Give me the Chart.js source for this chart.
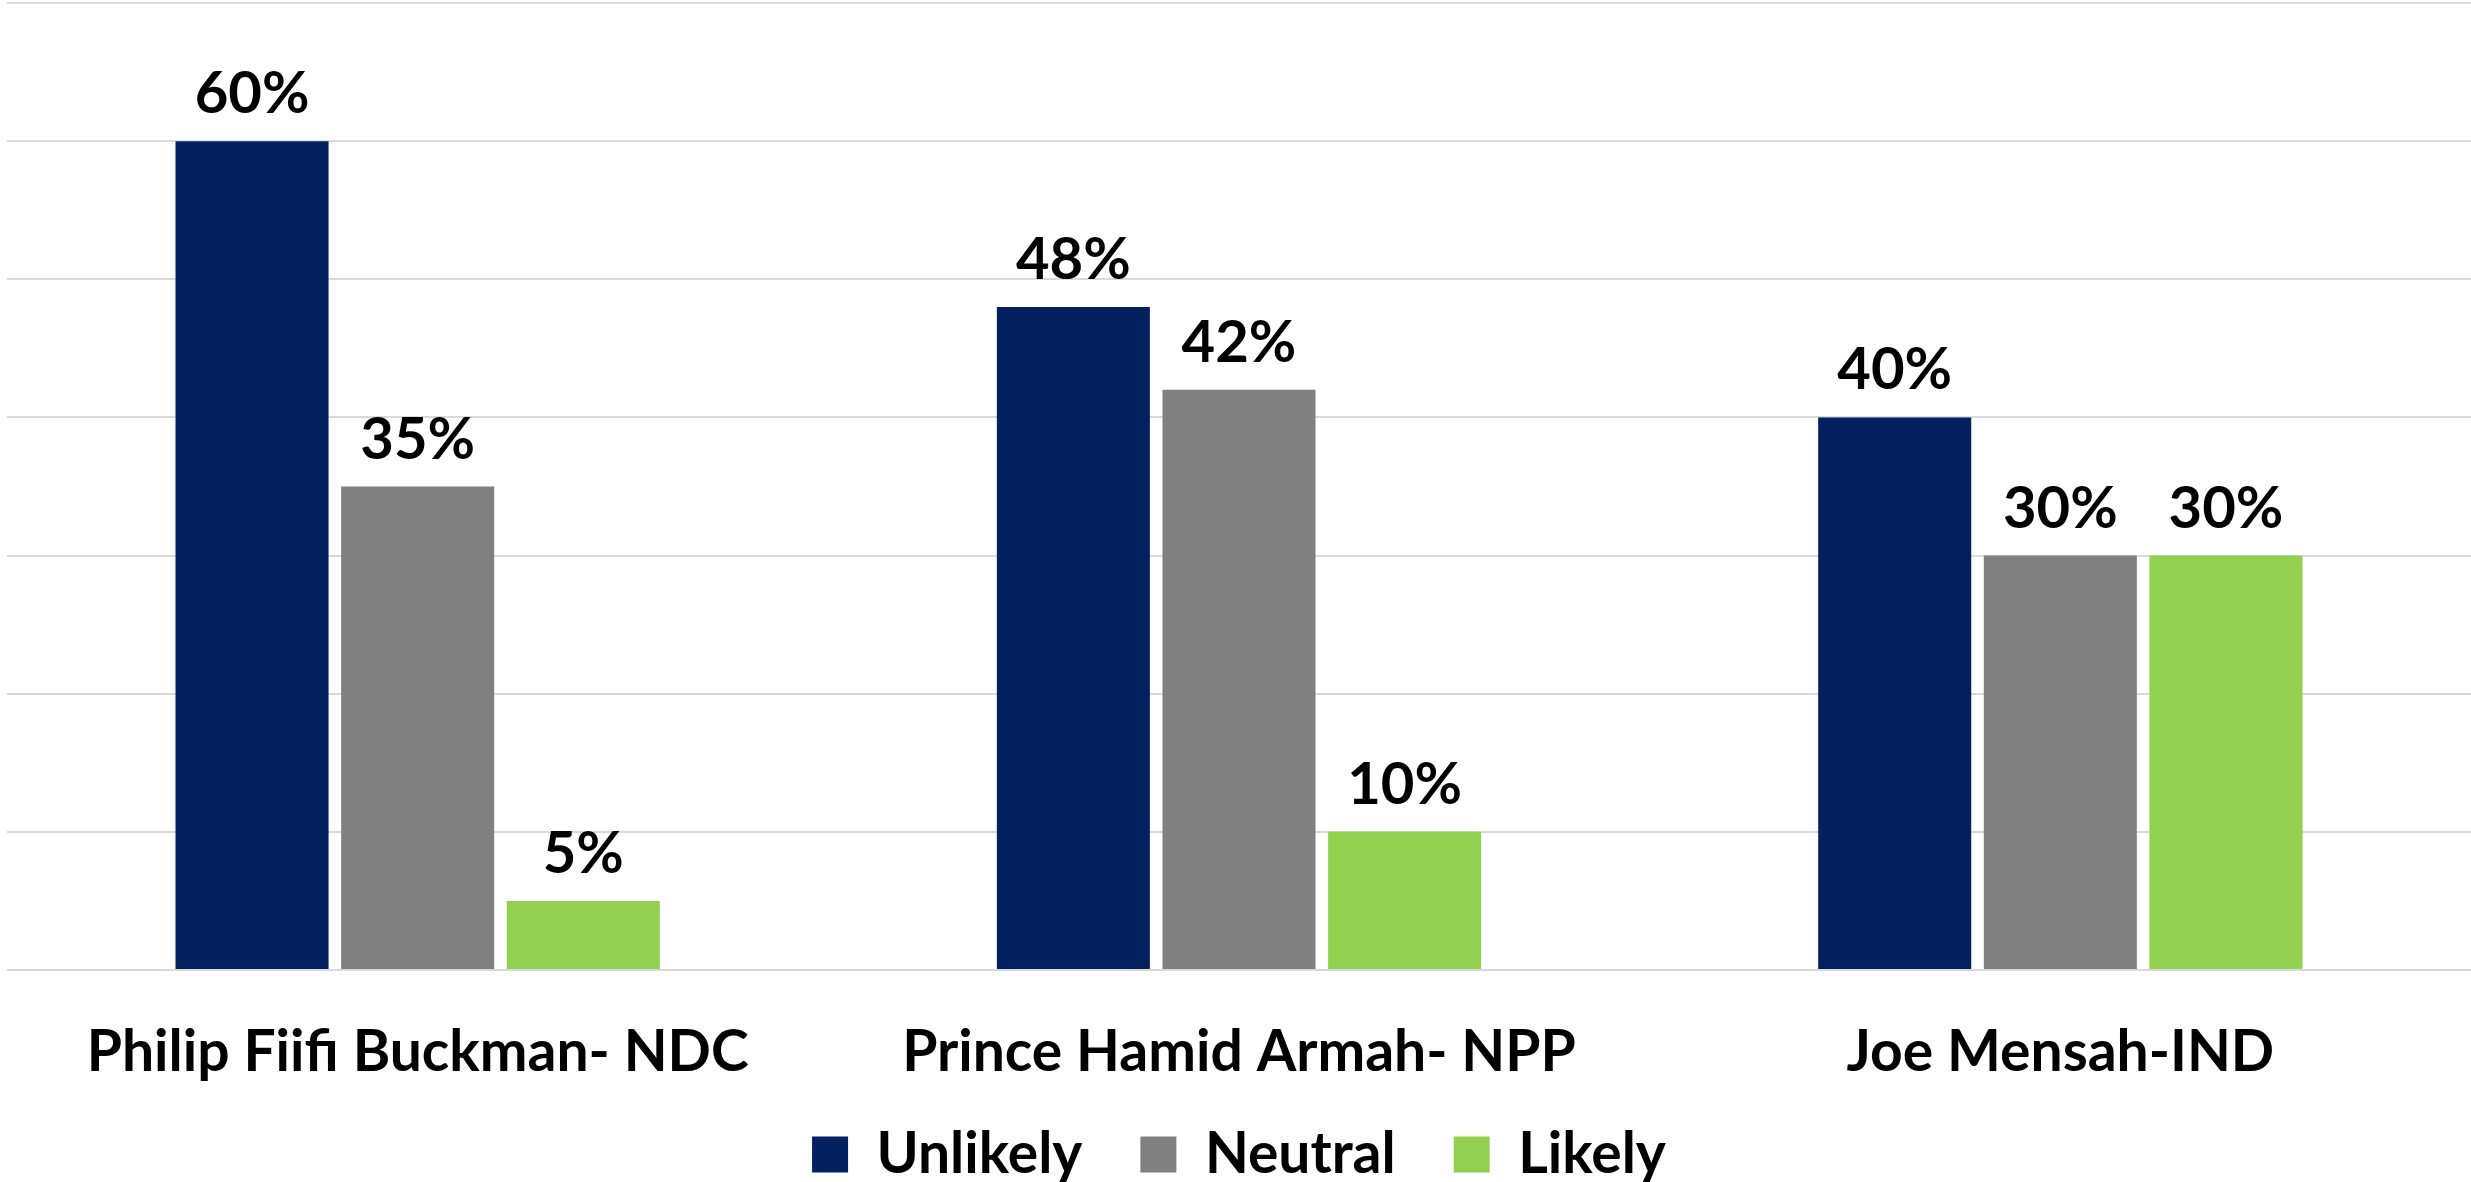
<!DOCTYPE html>
<html>
<head>
<meta charset="utf-8">
<script src="https://cdn.jsdelivr.net/npm/chart.js@4"></script>
<style>
    html, body { margin: 0; padding: 0; background: #fff; }
    #wrap { width: 2471px; height: 1182px; }
</style>
</head>
<body>
<div id="wrap"><canvas id="chart" width="2471" height="1182"></canvas></div>
<script>
const candidates = ["Philip Fiifi Buckman- NDC", "Prince Hamid Armah- NPP", "Joe Mensah-IND"];
const unlikely = [60, 48, 40];
const neutral = [35, 42, 30];
const likely = [5, 10, 30];
const yTicks = [0, 10, 20, 30, 40, 50, 60, 70];

const FONT = "Lato, 'Open Sans', sans-serif";

// value labels above each bar
const barLabels = {
    id: 'barLabels',
    afterDatasetsDraw(chart) {
        const ctx = chart.ctx;
        ctx.save();
        ctx.font = "bold 58px " + FONT;
        ctx.fillStyle = '#000';
        ctx.textAlign = 'center';
        ctx.textBaseline = 'alphabetic';
        chart.data.datasets.forEach((ds, i) => {
            chart.getDatasetMeta(i).data.forEach((bar, j) => {
                ctx.fillText(ds.data[j] + '%', bar.x, bar.y - 28);
            });
        });
        ctx.restore();
    }
};

// short legend box (wide item padding would push the plot up), then nudge it up a bit
const legendPlace = {
    id: 'legendPlace',
    beforeLayout(chart) {
        const lg = chart.legend;
        if (lg && !lg._patched) {
            const fit = lg.fit.bind(lg);
            lg.fit = function () { fit(); this.height = 91; };
            lg._patched = true;
        }
    },
    afterLayout(chart) {
        chart.legend.top -= 23;
    }
};

const ctx = document.getElementById('chart').getContext('2d');
new Chart(ctx, {
    type: 'bar',
    data: {
        labels: candidates,
        datasets: [
            {label: 'Unlikely', data: unlikely, backgroundColor: '#03215F'},
            {label: 'Neutral', data: neutral, backgroundColor: '#808080'},
            {label: 'Likely', data: likely, backgroundColor: '#92D050'}
        ]
    },
    options: {
        responsive: false,
        animation: false,
        layout: {padding: {top: 3, left: 7, right: 0, bottom: 0}},
        datasets: {
            bar: {categoryPercentage: 0.605, barPercentage: 0.924}
        },
        scales: {
            x: {
                grid: {display: false, drawTicks: false},
                border: {display: false},
                afterFit: (scale) => { scale.height = 121; },
                ticks: {
                    color: '#000',
                    padding: 54,
                    font: {family: FONT, size: 57, weight: 'bold', lineHeight: 1}
                }
            },
            y: {
                min: 0,
                max: 70,
                afterBuildTicks: (axis) => { axis.ticks = yTicks.map(v => ({value: v})); },
                grid: {color: '#d9d9d9', lineWidth: 2, drawTicks: false},
                border: {display: false},
                ticks: {display: false}
            }
        },
        plugins: {
            tooltip: {enabled: false},
            legend: {
                position: 'bottom',
                labels: {
                    color: '#000',
                    boxWidth: 36,
                    boxHeight: 36,
                    padding: 58,
                    font: {family: FONT, size: 57, weight: 'bold'}
                }
            }
        }
    },
    plugins: [barLabels, legendPlace]
});
</script>
</body>
</html>
